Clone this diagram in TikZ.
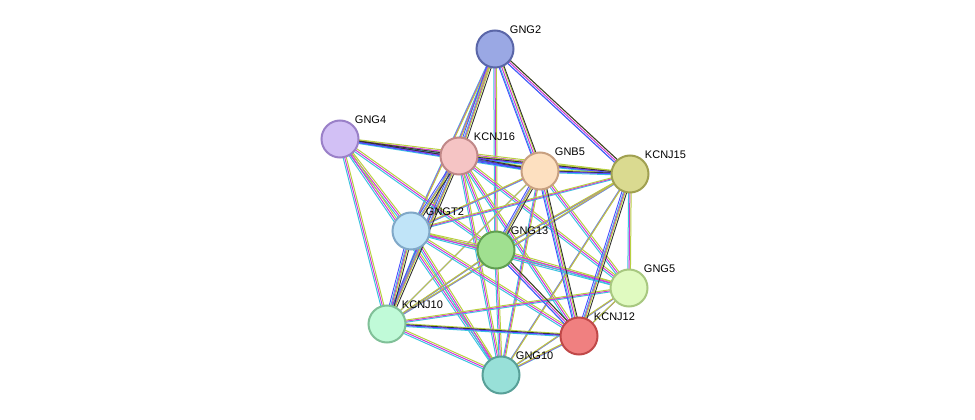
\documentclass[tikz,border=0pt]{standalone}
\usepackage{fontspec}
\setmainfont{Liberation Sans}
\usetikzlibrary{backgrounds}
\definecolor{ecyan}{HTML}{3CC4E0}
\definecolor{emag}{HTML}{D038D8}
\definecolor{eyel}{HTML}{B8D040}
\tikzset{
  prot/.style={circle, minimum size=37pt, inner sep=0pt, line width=2pt},
  plabel/.style={font=\fontsize{11}{12}\selectfont, inner sep=1pt},
  ecy/.style={ecyan, line width=1pt},
  emg/.style={emag, line width=1pt},
  eyl/.style={eyel, line width=1pt}
}
\begin{document}
\begin{tikzpicture}[x=1pt,y=-1pt]
\useasboundingbox (0,0) rectangle (975,420);
% proteins
\node [prot, fill={rgb,255:red,154;green,168;blue,228}, draw={rgb,255:red,90;green,102;blue,168}] (gng2) at (495,49) {};
\node [prot, fill={rgb,255:red,210;green,192;blue,245}, draw={rgb,255:red,154;green,128;blue,200}] (gng4) at (340,139) {};
\node [prot, fill={rgb,255:red,245;green,196;blue,196}, draw={rgb,255:red,192;green,136;blue,136}] (kcnj16) at (459,156) {};
\node [prot, fill={rgb,255:red,253;green,224;blue,192}, draw={rgb,255:red,200;green,160;blue,128}] (gnb5) at (540,171) {};
\node [prot, fill={rgb,255:red,218;green,218;blue,144}, draw={rgb,255:red,160;green,160;blue,80}] (kcnj15) at (630,174) {};
\node [prot, fill={rgb,255:red,192;green,228;blue,248}, draw={rgb,255:red,128;green,168;blue,200}] (gngt2) at (411,231) {};
\node [prot, fill={rgb,255:red,160;green,224;blue,144}, draw={rgb,255:red,96;green,160;blue,80}] (gng13) at (496,250) {};
\node [prot, fill={rgb,255:red,224;green,250;blue,192}, draw={rgb,255:red,168;green,200;blue,128}] (gng5) at (629,288) {};
\node [prot, fill={rgb,255:red,192;green,250;blue,216}, draw={rgb,255:red,128;green,192;blue,152}] (kcnj10) at (387,324) {};
\node [prot, fill={rgb,255:red,240;green,128;blue,128}, draw={rgb,255:red,192;green,72;blue,72}] (kcnj12) at (579,336) {};
\node [prot, fill={rgb,255:red,152;green,224;blue,216}, draw={rgb,255:red,88;green,160;blue,152}] (gng10) at (501,375) {};
% labels
\node [plabel, anchor=south west] at (gng2.north east) {GNG2};
\node [plabel, anchor=south west] at (gng4.north east) {GNG4};
\node [plabel, anchor=south west] at (kcnj16.north east) {KCNJ16};
\node [plabel, anchor=south west] at (gnb5.north east) {GNB5};
\node [plabel, anchor=south west] at (kcnj15.north east) {KCNJ15};
\node [plabel, anchor=south west] at (gngt2.north east) {GNGT2};
\node [plabel, anchor=south west] at (gng13.north east) {GNG13};
\node [plabel, anchor=south west] at (gng5.north east) {GNG5};
\node [plabel, anchor=south west] at (kcnj10.north east) {KCNJ10};
\node [plabel, anchor=south west] at (kcnj12.north east) {KCNJ12};
\node [plabel, anchor=south west] at (gng10.north east) {GNG10};
% interactions
\begin{scope}[on background layer]
\foreach \a/\b in {gng2/kcnj16,gng2/gnb5,gng2/kcnj15,gng2/gngt2,gng2/gng13,gng2/kcnj10,
  gng4/kcnj16,gng4/gnb5,gng4/kcnj15,gng4/gngt2,gng4/gng13,gng4/kcnj10,gng4/gng10,
  kcnj16/gnb5,kcnj16/kcnj15,kcnj16/gngt2,kcnj16/gng13,kcnj16/gng5,kcnj16/kcnj10,kcnj16/kcnj12,kcnj16/gng10,
  gnb5/kcnj15,gnb5/gngt2,gnb5/gng13,gnb5/gng5,gnb5/kcnj10,gnb5/kcnj12,gnb5/gng10,
  kcnj15/gngt2,kcnj15/gng13,kcnj15/gng5,kcnj15/kcnj10,kcnj15/kcnj12,kcnj15/gng10,
  gngt2/gng13,gngt2/gng5,gngt2/kcnj10,gngt2/kcnj12,gngt2/gng10,
  gng13/gng5,gng13/kcnj10,gng13/kcnj12,gng13/gng10,
  gng5/kcnj10,gng5/kcnj12,gng5/gng10,
  kcnj10/kcnj12,kcnj10/gng10,kcnj12/gng10}
{
  \draw [ecy] ([shift={(-1.3,1.3)}]\a.center) -- ([shift={(-1.3,1.3)}]\b.center);
  \draw [emg] (\a.center) -- (\b.center);
  \draw [eyl] ([shift={(1.3,-1.3)}]\a.center) -- ([shift={(1.3,-1.3)}]\b.center);
}
% stronger links
\foreach \a/\b in {gng2/kcnj16,gng2/gnb5,gng2/kcnj15,gng4/kcnj16,gng4/gnb5,kcnj16/gnb5,kcnj16/kcnj15,gnb5/kcnj15,
  kcnj16/kcnj10,kcnj16/gngt2,gngt2/kcnj10,kcnj15/kcnj12,gnb5/kcnj12,gng13/kcnj12,kcnj10/kcnj12,gnb5/gng13}
{
  \draw [black!80, line width=0.9pt] ([shift={(2.6,-0.3)}]\a.center) -- ([shift={(2.6,-0.3)}]\b.center);
  \draw [blue!70, line width=0.9pt] ([shift={(-2.6,0.3)}]\a.center) -- ([shift={(-2.6,0.3)}]\b.center);
}
\end{scope}
\end{tikzpicture}
\end{document}
